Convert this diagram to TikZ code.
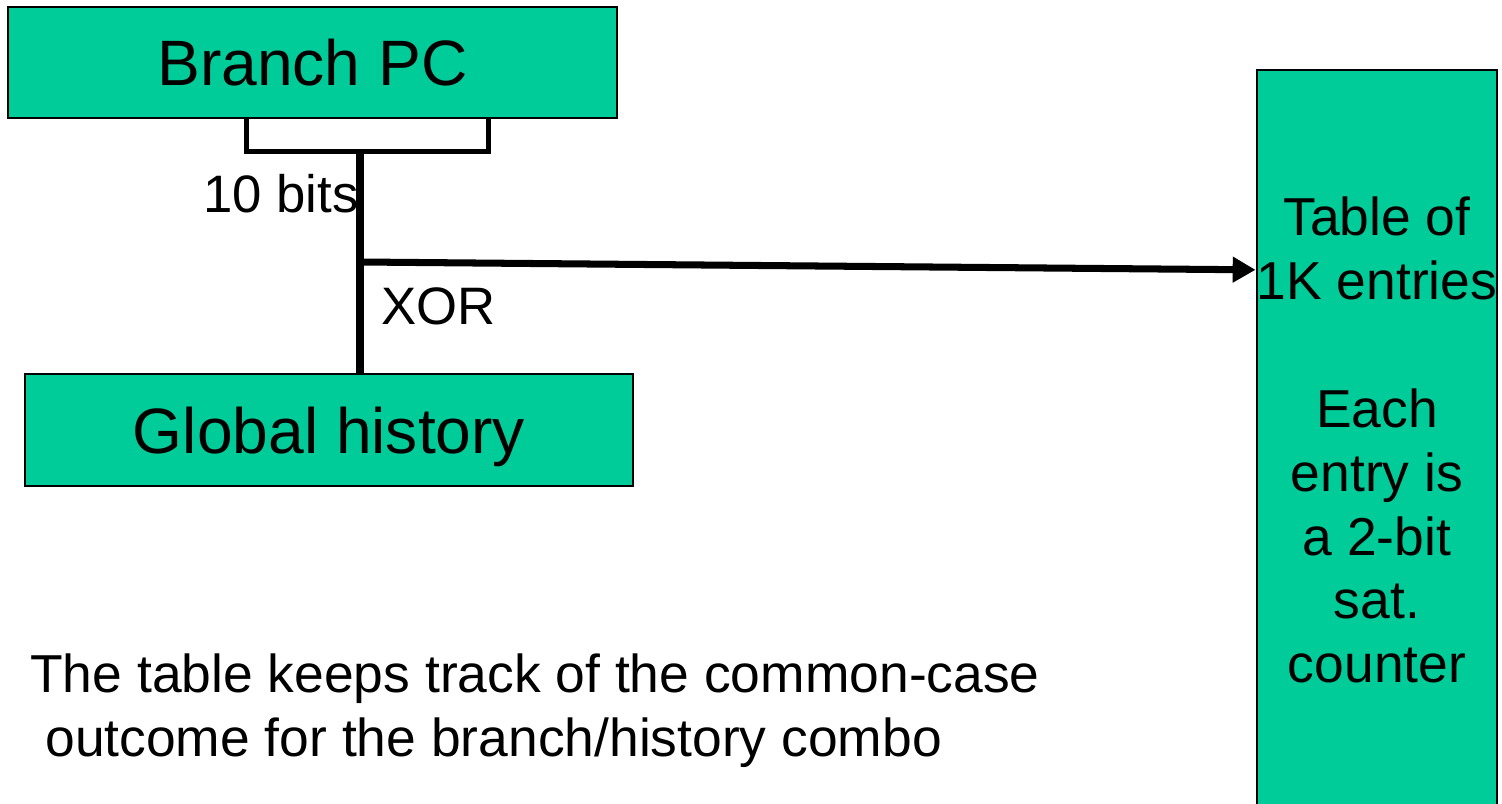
\documentclass[tikz,border=0pt]{standalone}
\usepackage{fontspec}
\setmainfont{Liberation Sans}
\usepackage{xcolor}
\definecolor{bpFill}{HTML}{00CC99}
\usepackage{tikz}
\usetikzlibrary{arrows.meta,calc}
\tikzset{
    box/.style={
        draw=black,
        fill=bpFill,
        rectangle,
        line width=1.4pt,
        align=center,
        inner sep=0pt,
        text depth=0pt,
        font=\fontsize{36.5}{43}\selectfont
    },
    tablebox/.style={
        draw=black,
        fill=bpFill,
        rectangle,
        line width=1.4pt,
        align=center,
        inner sep=0pt,
        font=\fontsize{30.4}{36.4}\selectfont
    },
    wire/.style={
        line width=4pt,
        color=black
    },
    arrow/.style={
        wire,
        -{Triangle[length=13pt,width=14pt]}
    },
    bracket/.style={
        line width=2.8pt,
        color=black
    },
    label/.style={
        inner sep=0pt,
        font=\fontsize{30}{36}\selectfont
    },
    note/.style={
        inner sep=0pt,
        align=left,
        font=\fontsize{30.4}{36.4}\selectfont
    }
}

\begin{document}
\begin{tikzpicture}[x=0.02cm, y=-0.02cm]
    \clip (0,0) rectangle (1502,804);

    % Index inputs
    \node[box, minimum width=12.18cm, minimum height=2.22cm] (pc) at (312.5,62.5) {Branch PC};
    \node[box, minimum width=12.16cm, minimum height=2.24cm] (hist) at (329,430) {Global history};

    % Counter table
    \node[tablebox, minimum width=4.8cm, minimum height=14.8cm] (tbl) at (1377,440)
        {Table of\\1K entries\\[36.4pt]Each\\entry is\\a 2-bit\\sat.\\counter};

    % Bit selection
    \coordinate (tapL) at ($(pc.south west)+(240,0)$);
    \coordinate (tapR) at ($(pc.south west)+(482,0)$);
    \coordinate (tap) at (360,150);
    \draw[bracket] (tapL) -- ++(0,32) -| (tapR);

    % Connections
    \coordinate (xor) at (360,262);
    \coordinate (tblin) at ($(tbl.north west)+(0,201)$);
    \draw[wire] (tap) -- (tap |- hist.north);
    \draw[arrow] (xor) -- (tblin);

    \node[label, anchor=base east] (bits) at (359,213) {10 bits};
    \node[label, anchor=base west] (xorlbl) at (381,325) {XOR};

    \node[note, anchor=base west] (summary) at (30,756)
        {The table keeps track of the common-case\\\hspace*{0.28em}outcome for the branch/history combo};
\end{tikzpicture}
\end{document}
